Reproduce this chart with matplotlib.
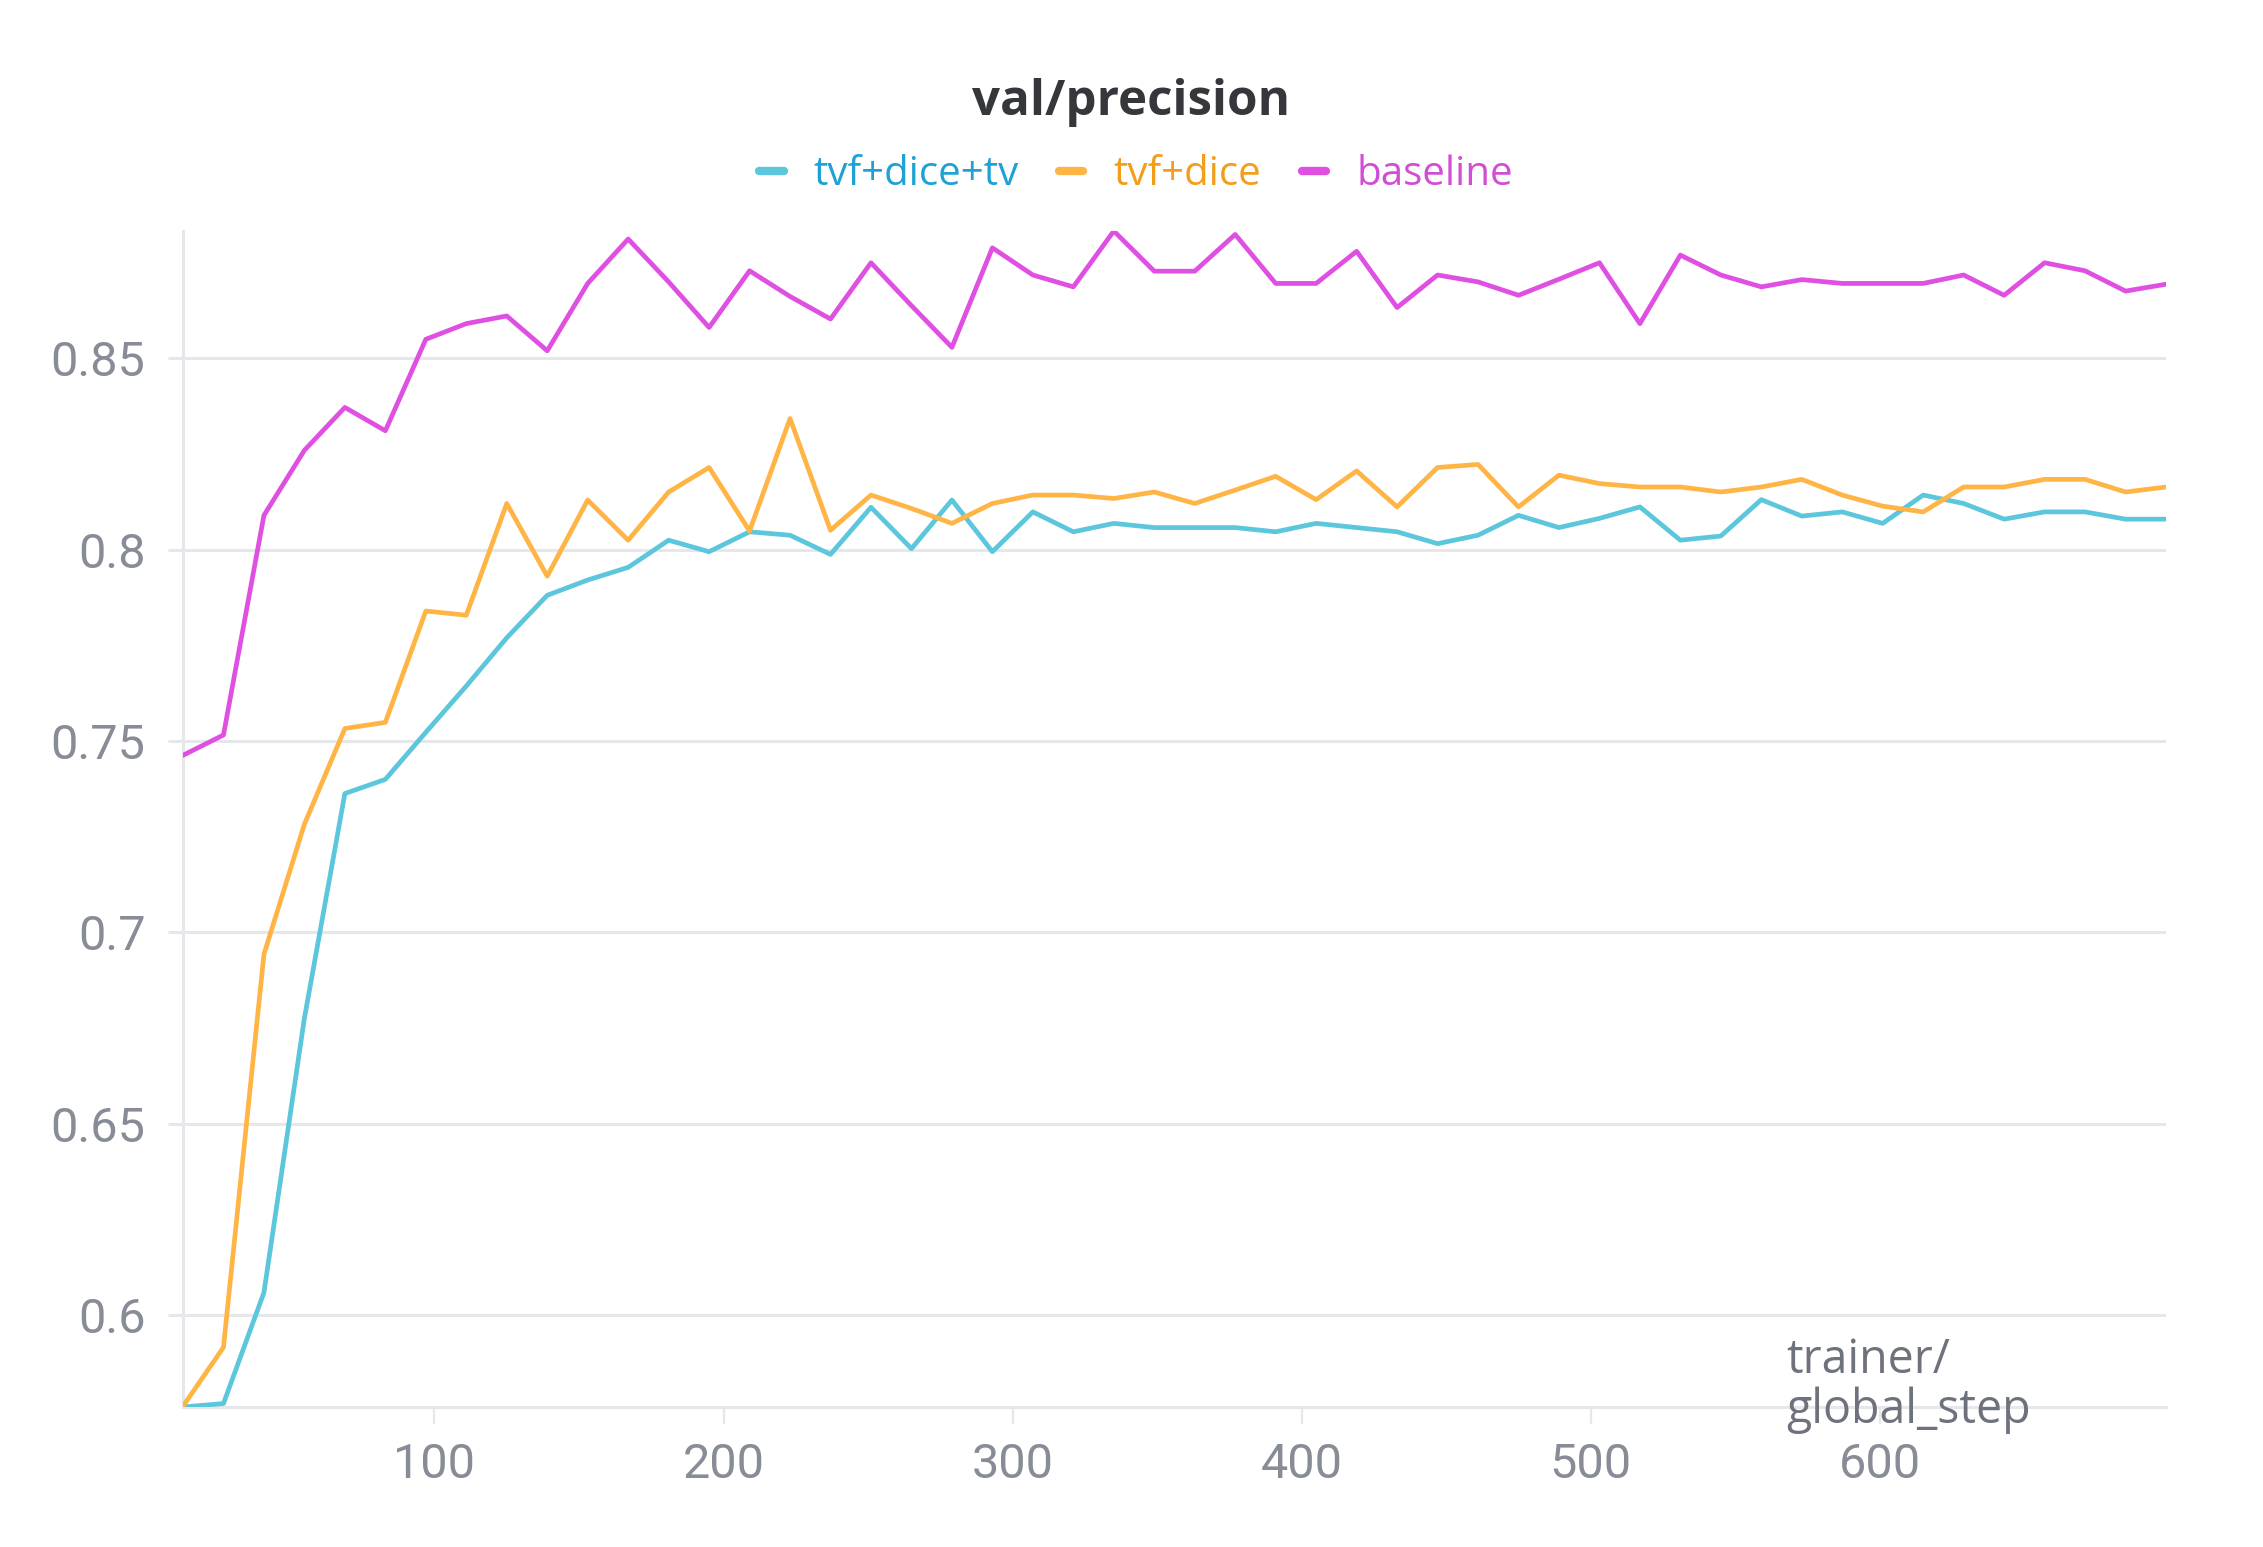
import matplotlib
matplotlib.use("Agg")
import matplotlib.pyplot as plt
from matplotlib import font_manager
from matplotlib.lines import Line2D

# ---------------- data ----------------
steps = [13, 27, 41, 55, 69, 83, 97, 111, 125, 139,
         153, 167, 181, 195, 209, 223, 237, 251, 265, 279,
         293, 307, 321, 335, 349, 363, 377, 391, 405, 419,
         433, 447, 461, 475, 489, 503, 517, 531, 545, 559,
         573, 587, 601, 615, 629, 643, 657, 671, 685, 699]

tvf_dice_tv = [0.5760, 0.5769, 0.6059, 0.6776, 0.7363, 0.7400, 0.7523, 0.7644, 0.7770, 0.7881,
               0.7921, 0.7954, 0.8025, 0.7995, 0.8047, 0.8038, 0.7988, 0.8111, 0.8003, 0.8130,
               0.7995, 0.8099, 0.8047, 0.8069, 0.8058, 0.8058, 0.8058, 0.8047, 0.8069, 0.8058,
               0.8047, 0.8016, 0.8038, 0.8090, 0.8058, 0.8082, 0.8112, 0.8025, 0.8036, 0.8131,
               0.8088, 0.8099, 0.8069, 0.8143, 0.8121, 0.8080, 0.8099, 0.8099, 0.8080, 0.8080]

tvf_dice = [0.5762, 0.5916, 0.6943, 0.7283, 0.7533, 0.7549, 0.7840, 0.7829, 0.8121, 0.7931,
            0.8130, 0.8025, 0.8151, 0.8215, 0.8049, 0.8343, 0.8051, 0.8143, 0.8108, 0.8069,
            0.8121, 0.8143, 0.8143, 0.8134, 0.8151, 0.8121, 0.8156, 0.8192, 0.8131, 0.8206,
            0.8112, 0.8215, 0.8223, 0.8112, 0.8195, 0.8173, 0.8164, 0.8164, 0.8151, 0.8164,
            0.8184, 0.8143, 0.8114, 0.8099, 0.8164, 0.8164, 0.8184, 0.8184, 0.8151, 0.8164]

baseline = [0.7463, 0.7516, 0.8090, 0.8260, 0.8372, 0.8311, 0.8550, 0.8591, 0.8611, 0.8520,
            0.8696, 0.8812, 0.8700, 0.8581, 0.8729, 0.8662, 0.8603, 0.8750, 0.8638, 0.8529,
            0.8789, 0.8718, 0.8687, 0.8833, 0.8728, 0.8728, 0.8824, 0.8696, 0.8696, 0.8780,
            0.8633, 0.8718, 0.8700, 0.8665, 0.8707, 0.8750, 0.8591, 0.8770, 0.8718, 0.8687,
            0.8706, 0.8696, 0.8696, 0.8696, 0.8718, 0.8665, 0.8750, 0.8729, 0.8676, 0.8694]

series_labels = ["tvf+dice+tv", "tvf+dice", "baseline"]
x_ticks = [100, 200, 300, 400, 500, 600]
x_tick_labels = ["100", "200", "300", "400", "500", "600"]
y_ticks = [0.6, 0.65, 0.7, 0.75, 0.8, 0.85]
y_tick_labels = ["0.6", "0.65", "0.7", "0.75", "0.8", "0.85"]
title = "val/precision"
x_label_lines = ["trainer/", "global_step"]

# ---------------- style ----------------
line_colors = ["#5cc6dc", "#ffb546", "#df50e2"]
text_colors = ["#1ea2d6", "#f29e1a", "#d24dd6"]
grid_color = "#e6e7ea"
tick_color = "#878c96"
label_color = "#6d727c"

avail = {f.name for f in font_manager.fontManager.ttflist}


def pick(*names):
    for n in names:
        if n in avail:
            return n
    return "DejaVu Sans"


tick_font = pick("Liberation Sans Narrow", "Roboto", "Open Sans")
text_font = pick("Open Sans", "Lato", "Roboto")

W, H = 2263, 1547
fig = plt.figure(figsize=(W / 100, H / 100), dpi=100)
fig.patch.set_facecolor("white")

ax_left, ax_right, ax_top, ax_bottom = 183, 2166, 231, 1407
ax = fig.add_axes([ax_left / W, 1 - ax_bottom / H,
                   (ax_right - ax_left) / W, (ax_bottom - ax_top) / H])

series = [tvf_dice_tv, tvf_dice, baseline]
for vals, col, lab in zip(series, line_colors, series_labels):
    ax.plot(steps, vals, color=col, lw=3.4, label=lab,
            solid_joinstyle="round", solid_capstyle="round", zorder=3)

all_vals = tvf_dice_tv + tvf_dice + baseline
ax.set_xlim(steps[0], steps[-1])
ax.set_ylim(min(all_vals), max(all_vals))

ax.set_xticks(x_ticks)
ax.set_xticklabels(x_tick_labels)
ax.set_yticks(y_ticks)
ax.set_yticklabels(y_tick_labels)

ax.grid(axis="y", color=grid_color, lw=2.2, zorder=0)
ax.grid(axis="x", visible=False)
ax.set_axisbelow(True)

for s in ("top", "right"):
    ax.spines[s].set_visible(False)
for s in ("left", "bottom"):
    ax.spines[s].set_color(grid_color)
    ax.spines[s].set_linewidth(2.2)

ax.tick_params(axis="x", length=12, width=1.6, color=grid_color, pad=13,
               labelsize=35, labelcolor=tick_color)
ax.tick_params(axis="y", length=11, width=2.2, color=grid_color, pad=16,
               labelsize=35, labelcolor=tick_color)
for t in ax.get_xticklabels() + ax.get_yticklabels():
    t.set_fontfamily(tick_font)

# title
fig.text(0.5, 1 - 115 / H, title, ha="center", va="baseline",
         fontsize=35.5, fontweight="bold", color="#35373b", family=text_font)

# legend
handles = [Line2D([], [], color=c, lw=6, solid_capstyle="round") for c in line_colors]
leg = fig.legend(handles, series_labels, loc="center",
                 bbox_to_anchor=(1136 / W, 1 - 174.5 / H),
                 ncol=3, frameon=False, handlelength=0.6, handletextpad=0.75,
                 columnspacing=1.0, prop={"family": text_font, "size": 29})
for t, c in zip(leg.get_texts(), text_colors):
    t.set_color(c)

# x-axis label (two lines, bottom right)
fig.text(1786 / W, 1 - 1373 / H, x_label_lines[0], ha="left", va="baseline",
         fontsize=33.5, color=label_color, family=text_font)
fig.text(1786 / W, 1 - 1423 / H, x_label_lines[1], ha="left", va="baseline",
         fontsize=33.5, color=label_color, family=text_font)

fig.savefig("out.png", dpi=100, facecolor="white")
